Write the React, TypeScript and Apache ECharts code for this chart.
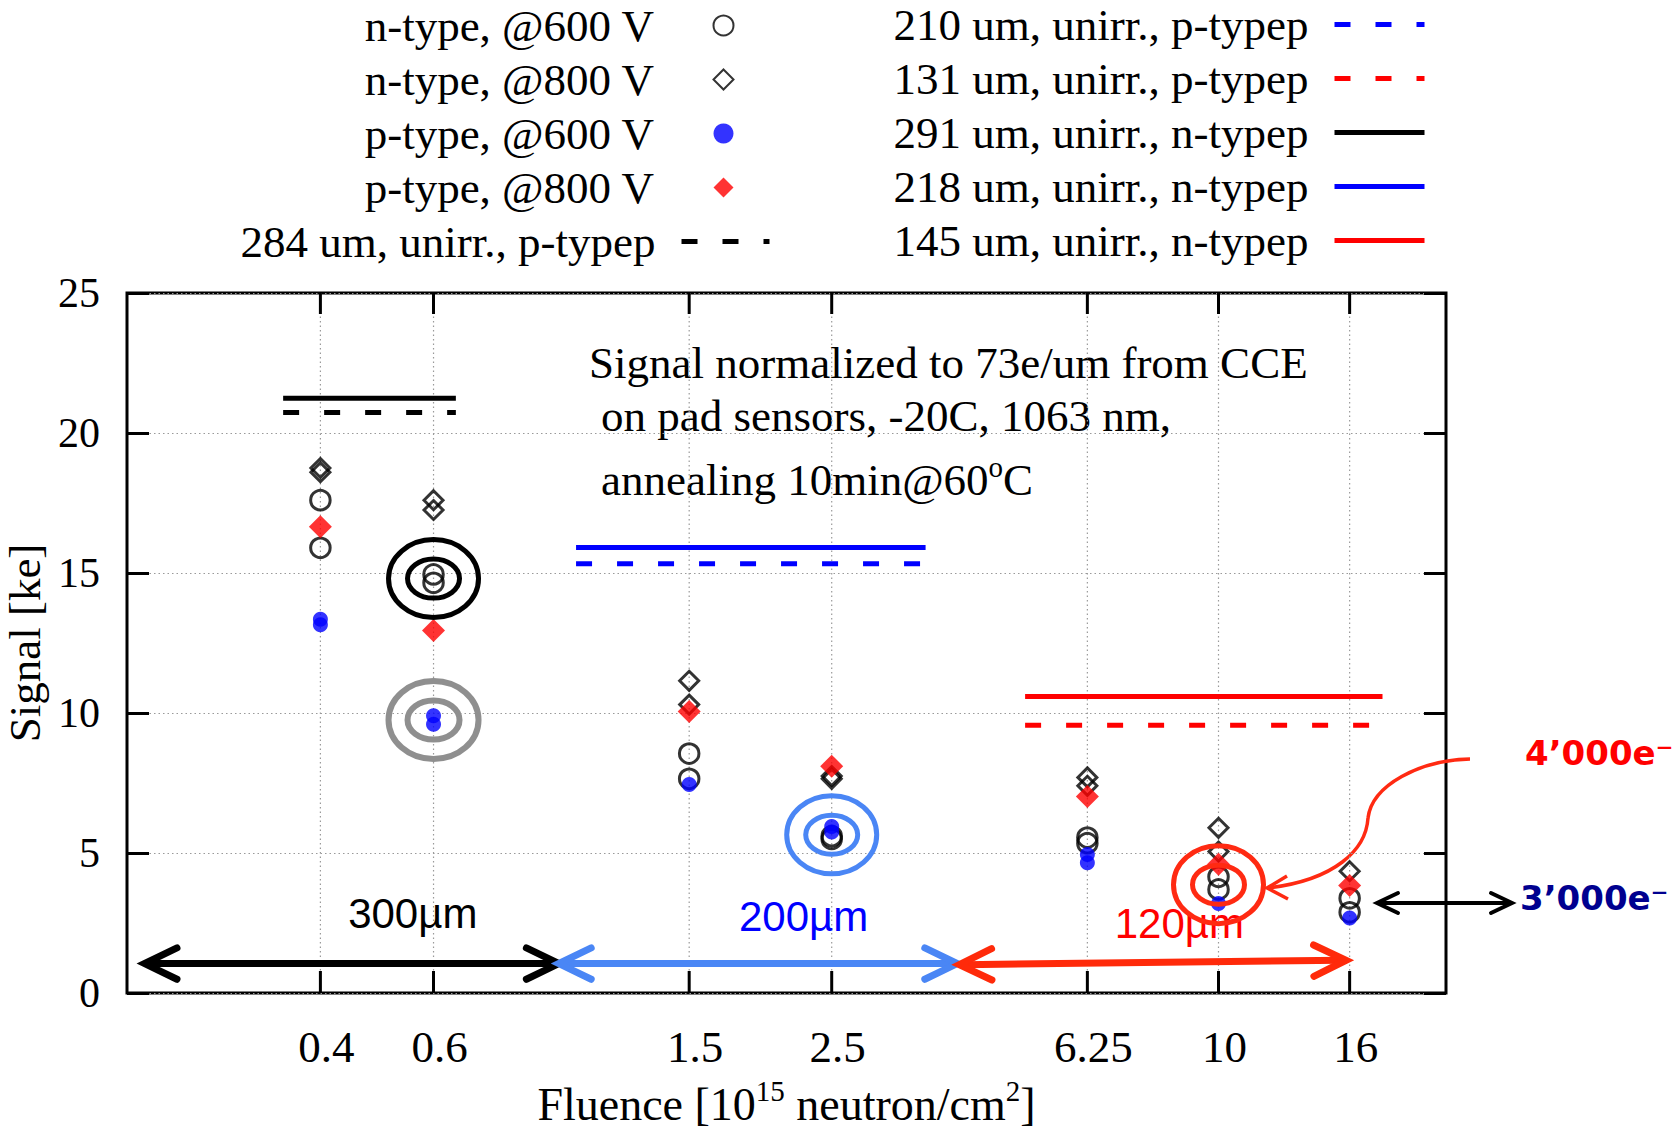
import React, { useEffect, useRef } from 'react';
import * as echarts from 'echarts';

// ---------------- data ----------------
const fluenceTicks = [0.4, 0.6, 1.5, 2.5, 6.25, 10, 16];
const fluenceTickLabels = ['0.4', '0.6', '1.5', '2.5', '6.25', '10', '16'];

// [fluence (1e15 n/cm2), signal (ke)]
const nType600V = [
  [0.4, 17.6], [0.4, 15.9], [0.6, 14.95], [0.6, 14.65], [1.5, 8.55], [1.5, 7.65],
  [2.5, 5.6], [2.5, 5.5], [6.25, 5.55], [6.25, 5.35], [10, 4.15], [10, 3.7], [16, 3.38], [16, 2.88],
];
const nType800V = [
  [0.4, 18.75], [0.4, 18.6], [0.6, 17.6], [0.6, 17.25], [1.5, 11.15], [1.5, 10.3],
  [2.5, 7.75], [2.5, 7.65], [6.25, 7.7], [6.25, 7.4], [10, 5.9], [10, 5.05], [16, 4.35],
];
const pType600V = [
  [0.4, 13.35], [0.4, 13.15], [0.6, 9.9], [0.6, 9.6], [1.5, 7.45], [2.5, 5.95], [2.5, 5.75],
  [6.25, 4.95], [6.25, 4.65], [10, 3.2], [16, 2.68],
];
const pType800V = [
  [0.4, 16.65], [0.6, 12.95], [1.5, 10.05], [2.5, 8.1], [6.25, 7.02], [10, 4.6], [16, 3.84],
];

// unirradiated reference levels
const unirrNames = [
  '284 um, unirr., p-typep',
  '210 um, unirr., p-typep',
  '131 um, unirr., p-typep',
  '291 um, unirr., n-typep',
  '218 um, unirr., n-typep',
  '145 um, unirr., n-typep',
];
const unirrSignal = [20.73, 15.33, 9.56, 21.24, 15.91, 10.59];
const unirrFluenceFrom = [0.35, 1.0, 5.0, 0.35, 1.0, 5.0];
const unirrFluenceTo = [0.65, 3.5, 18, 0.65, 3.5, 18];

// highlighted points (concentric ellipses)
const highlightFluence = [0.6, 0.6, 2.5, 10];
const highlightSignal = [14.8, 9.75, 5.65, 3.87];

// thickness regions
const regionLabels = ['300\u00b5m', '200\u00b5m', '120\u00b5m'];
const regionFluenceFrom = [0.213, 0.94, 3.95];
const regionFluenceTo = [0.94, 3.92, 15.8];
const regionSignalFrom = [1.05, 1.05, 1.01];
const regionSignalTo = [1.05, 1.05, 1.17];
const regionLabelFluence = [0.557, 2.26, 8.69];
const regionLabelSignal = [2.85, 2.72, 2.5];

// ---------------- styles ----------------
const SERIF = '"Liberation Serif", "Times New Roman", serif';
const SANS = '"Liberation Sans", Arial, sans-serif';
const BOLD_SANS = '"DejaVu Sans", Verdana, sans-serif';

const unirrColors = ['#000000', '#0000ff', '#ff0000', '#000000', '#0000ff', '#ff0000'];
const unirrDashed = [true, true, true, false, false, false];
const highlightColors = ['#000000', '#8f8f8f', '#4a86f5', '#ff2a12'];
const highlightWidths = [5, 6, 5, 5];
const regionColors = ['#000000', '#4a86f5', '#ff2a0a'];
const regionTextColors = ['#000000', '#0000ff', '#ff0000'];

function arrowHead(tip: number[], dir: number, len: number, half: number) {
  return [
    [tip[0] + len * Math.cos(dir + half), tip[1] + len * Math.sin(dir + half)],
    [tip[0], tip[1]],
    [tip[0] + len * Math.cos(dir - half), tip[1] + len * Math.sin(dir - half)],
  ];
}

export default function App() {
  const ref = useRef<HTMLDivElement>(null);

  useEffect(() => {
    if (!ref.current) return;
    document.body.style.margin = '0';
    const chart = echarts.init(ref.current, null, { renderer: 'svg' });

    const legendText = (padRight: number) => ({
      color: '#000',
      fontFamily: SERIF,
      fontSize: 45,
      lineHeight: 44,
      padding: [0, padRight, 0, 0],
    });

    const scatterSeries: any[] = [
      {
        name: 'n-type, @600 V', type: 'scatter', data: nType600V, symbol: 'circle', symbolSize: 19.5,
        itemStyle: { color: 'transparent', borderColor: '#000', borderWidth: 3 }, z: 3, silent: true,
      },
      {
        name: 'n-type, @800 V', type: 'scatter', data: nType800V, symbol: 'diamond', symbolSize: 19,
        itemStyle: { color: 'transparent', borderColor: '#000', borderWidth: 3 }, z: 3, silent: true,
      },
      {
        name: 'p-type, @600 V', type: 'scatter', data: pType600V, symbol: 'circle', symbolSize: 15,
        itemStyle: { color: '#0000ff' }, z: 4, silent: true,
      },
      {
        name: 'p-type, @800 V', type: 'scatter', data: pType800V, symbol: 'diamond', symbolSize: 23,
        itemStyle: { color: '#ff0000' }, z: 5, silent: true,
      },
    ];

    const lineSeries: any[] = unirrNames.map((name, i) => ({
      name,
      type: 'line',
      data: [[unirrFluenceFrom[i], unirrSignal[i]], [unirrFluenceTo[i], unirrSignal[i]]],
      symbol: 'none',
      silent: true,
      lineStyle: { color: unirrColors[i], width: 5, type: unirrDashed[i] ? [16, 25] : 'solid', cap: 'butt' },
      itemStyle: { color: unirrColors[i] },
      z: 2,
    }));

    const tickSeries: any = {
      name: 'fluenceTicks',
      type: 'custom',
      silent: true,
      z: 1,
      data: fluenceTicks.map((v) => [v, 0]),
      encode: { x: 0, y: 1 },
      renderItem: (params: any, api: any) => {
        const v = api.value(0);
        const b = api.coord([v, 0]);
        const t = api.coord([v, 25]);
        return {
          type: 'group',
          children: [
            { type: 'line', shape: { x1: b[0], y1: b[1], x2: t[0], y2: t[1] }, style: { stroke: '#9a9a9a', lineWidth: 1.2, lineDash: [1.5, 3] } },
            { type: 'line', shape: { x1: b[0], y1: b[1], x2: b[0], y2: b[1] - 22 }, style: { stroke: '#000', lineWidth: 3 } },
            { type: 'line', shape: { x1: t[0], y1: t[1], x2: t[0], y2: t[1] + 21 }, style: { stroke: '#000', lineWidth: 3 } },
            {
              type: 'text',
              x: b[0] + 6,
              y: b[1] + 54,
              style: {
                text: fluenceTickLabels[params.dataIndex], fill: '#000', fontSize: 45, fontFamily: SERIF,
                align: 'center', verticalAlign: 'middle',
              },
            },
          ],
        };
      },
    };

    const highlightSeries: any = {
      name: 'highlights',
      type: 'custom',
      silent: true,
      z: 6,
      data: highlightFluence.map((f, i) => [f, highlightSignal[i]]),
      encode: { x: 0, y: 1 },
      renderItem: (params: any, api: any) => {
        const c = api.coord([api.value(0), api.value(1)]);
        const stroke = highlightColors[params.dataIndex];
        const lw = highlightWidths[params.dataIndex];
        return {
          type: 'group',
          children: [
            { type: 'ellipse', shape: { cx: c[0], cy: c[1], rx: 45, ry: 39 }, style: { stroke, lineWidth: lw, fill: 'none' } },
            { type: 'ellipse', shape: { cx: c[0], cy: c[1], rx: 26, ry: 19.5 }, style: { stroke, lineWidth: lw, fill: 'none' } },
          ],
        };
      },
    };

    const regionArrowSeries: any = {
      name: 'regions',
      type: 'custom',
      silent: true,
      z: 6,
      data: regionFluenceFrom.map((f, i) => [f, regionSignalFrom[i], regionFluenceTo[i], regionSignalTo[i]]),
      encode: { x: [0, 2], y: [1, 3] },
      renderItem: (params: any, api: any) => {
        const p1 = api.coord([api.value(0), api.value(1)]);
        const p2 = api.coord([api.value(2), api.value(3)]);
        const color = regionColors[params.dataIndex];
        const ang = Math.atan2(p2[1] - p1[1], p2[0] - p1[0]);
        const common = { stroke: color, lineWidth: 7, fill: 'none', lineJoin: 'miter', lineCap: 'round' };
        return {
          type: 'group',
          children: [
            {
              type: 'line',
              shape: { x1: p1[0] + 4 * Math.cos(ang), y1: p1[1] + 4 * Math.sin(ang), x2: p2[0] - 4 * Math.cos(ang), y2: p2[1] - 4 * Math.sin(ang) },
              style: { stroke: color, lineWidth: 7, lineCap: 'butt' },
            },
            { type: 'polyline', shape: { points: arrowHead(p1, ang, 36, 0.45) }, style: common },
            { type: 'polyline', shape: { points: arrowHead(p2, ang + Math.PI, 36, 0.45) }, style: common },
          ],
        };
      },
    };

    const regionLabelSeries: any = {
      name: 'regionLabels',
      type: 'custom',
      silent: true,
      z: 5,
      data: regionLabelFluence.map((f, i) => [f, regionLabelSignal[i]]),
      encode: { x: 0, y: 1 },
      renderItem: (params: any, api: any) => {
        const c = api.coord([api.value(0), api.value(1)]);
        return {
          type: 'text',
          x: c[0],
          y: c[1],
          style: {
            text: regionLabels[params.dataIndex], fill: regionTextColors[params.dataIndex],
            fontSize: 42, fontFamily: SANS, align: 'center', verticalAlign: 'middle',
          },
        };
      },
    };

    const supRich = (size: number) => ({
      a: { fontFamily: SERIF, fontSize: size, lineHeight: 56, color: '#000' },
      s: { fontFamily: SERIF, fontSize: Math.round(size * 0.64), lineHeight: 28, verticalAlign: 'top', color: '#000' },
    });

    const legendCommon = {
      orient: 'vertical', align: 'right', padding: 0, itemGap: 9, selectedMode: false,
      lineStyle: { width: 5 },
    };

    const option: any = {
      animation: false,
      backgroundColor: '#ffffff',
      grid: {
        left: 127, top: 293, width: 1319, height: 700,
        containLabel: false, outerBoundsMode: 'none',
        show: true, borderColor: '#000', borderWidth: 3, backgroundColor: 'transparent',
      },
      legend: [
        {
          ...legendCommon,
          data: ['n-type, @600 V', 'n-type, @800 V', 'p-type, @600 V', 'p-type, @800 V'],
          right: 942.5, top: 3, itemWidth: 20, itemHeight: 20,
          textStyle: legendText(54.5),
        },
        {
          ...legendCommon,
          data: [{ name: unirrNames[0], itemStyle: { opacity: 0 } }],
          right: 905, top: 219, itemWidth: 88, itemHeight: 20,
          textStyle: legendText(21),
        },
        {
          ...legendCommon,
          data: [1, 2, 3, 4, 5].map((i) => ({ name: unirrNames[i], itemStyle: { opacity: 0 } })),
          right: 250, top: 2, itemWidth: 90, itemHeight: 20,
          textStyle: legendText(21),
        },
      ],
      xAxis: {
        type: 'log', logBase: 10, min: 0.2, max: 22.6,
        axisLine: { show: false }, axisTick: { show: false }, axisLabel: { show: false },
        splitLine: { show: false }, minorTick: { show: false },
        name: '{a|Fluence [10}{s|15}{a| neutron/cm}{s|2}{a|]}',
        nameLocation: 'middle', nameGap: 83,
        nameTextStyle: { fontFamily: SERIF, fontSize: 46, color: '#000', rich: supRich(46) },
      },
      yAxis: [
        {
          type: 'value', min: 0, max: 25, interval: 5, position: 'left',
          axisLine: { show: false },
          axisTick: { show: true, inside: true, length: 22, lineStyle: { color: '#000', width: 3 } },
          axisLabel: { color: '#000', fontSize: 42, fontFamily: SERIF, margin: 27 },
          splitLine: { show: true, lineStyle: { color: '#9a9a9a', width: 1.2, type: [1.5, 3] } },
          name: 'Signal [ke]', nameLocation: 'middle', nameGap: 67,
          nameTextStyle: { fontFamily: SERIF, fontSize: 45, color: '#000' },
        },
        {
          type: 'value', min: 0, max: 25, interval: 5, position: 'right',
          axisLine: { show: false },
          axisTick: { show: true, inside: true, length: 22, lineStyle: { color: '#000', width: 3 } },
          axisLabel: { show: false }, splitLine: { show: false },
        },
      ],
      series: [tickSeries, ...lineSeries, ...scatterSeries, highlightSeries, regionArrowSeries, regionLabelSeries],
      graphic: [
        {
          type: 'text', x: 589, y: 363,
          style: { text: 'Signal normalized to 73e/um from CCE', fill: '#000', fontSize: 45, fontFamily: SERIF, verticalAlign: 'middle' },
        },
        {
          type: 'text', x: 601, y: 416,
          style: { text: 'on pad sensors, -20C, 1063 nm,', fill: '#000', fontSize: 45, fontFamily: SERIF, verticalAlign: 'middle' },
        },
        {
          type: 'text', x: 601, y: 480,
          style: { text: '{a|annealing 10min@60}{s|o}{a|C}', rich: supRich(45), verticalAlign: 'middle' },
        },
        // red curved arrow to the 120um highlight
        {
          type: 'bezierCurve',
          shape: { x1: 1470, y1: 759, cpx1: 1420, cpy1: 760, cpx2: 1372, cpy2: 785, x2: 1368, y2: 818 },
          style: { stroke: '#ff2a12', lineWidth: 3.5, fill: 'none' },
        },
        {
          type: 'bezierCurve',
          shape: { x1: 1368, y1: 818, cpx1: 1366, cpy1: 850, cpx2: 1335, cpy2: 880, x2: 1268, y2: 888 },
          style: { stroke: '#ff2a12', lineWidth: 3.5, fill: 'none' },
        },
        {
          type: 'polyline',
          shape: { points: [[1287, 876], [1267, 888], [1288, 899]] },
          style: { stroke: '#ff2a12', lineWidth: 3.5, fill: 'none', lineJoin: 'miter' },
        },
        // black double arrow to 3'000e-
        {
          type: 'line', shape: { x1: 1379, y1: 903, x2: 1510, y2: 903 },
          style: { stroke: '#000', lineWidth: 4 },
        },
        {
          type: 'polyline', shape: { points: [[1398, 893], [1377, 903], [1398, 913]] },
          style: { stroke: '#000', lineWidth: 4, fill: 'none', lineCap: 'round' },
        },
        {
          type: 'polyline', shape: { points: [[1491, 893], [1512, 903], [1491, 913]] },
          style: { stroke: '#000', lineWidth: 4, fill: 'none', lineCap: 'round' },
        },
        {
          type: 'text', x: 1525, y: 753,
          style: { text: '4\u2019000e\u207b', fill: '#ff0000', fontSize: 34, fontWeight: 'bold', fontFamily: BOLD_SANS, verticalAlign: 'middle' },
        },
        {
          type: 'text', x: 1520, y: 898,
          style: { text: '3\u2019000e\u207b', fill: '#00008f', fontSize: 34, fontWeight: 'bold', fontFamily: BOLD_SANS, verticalAlign: 'middle' },
        },
      ],
    };

    chart.setOption(option);
    return () => chart.dispose();
  }, []);

  return (
    <div
      ref={ref}
      style={{ position: 'absolute', left: 0, top: 0, width: 1677, height: 1131, background: '#fff' }}
    />
  );
}
